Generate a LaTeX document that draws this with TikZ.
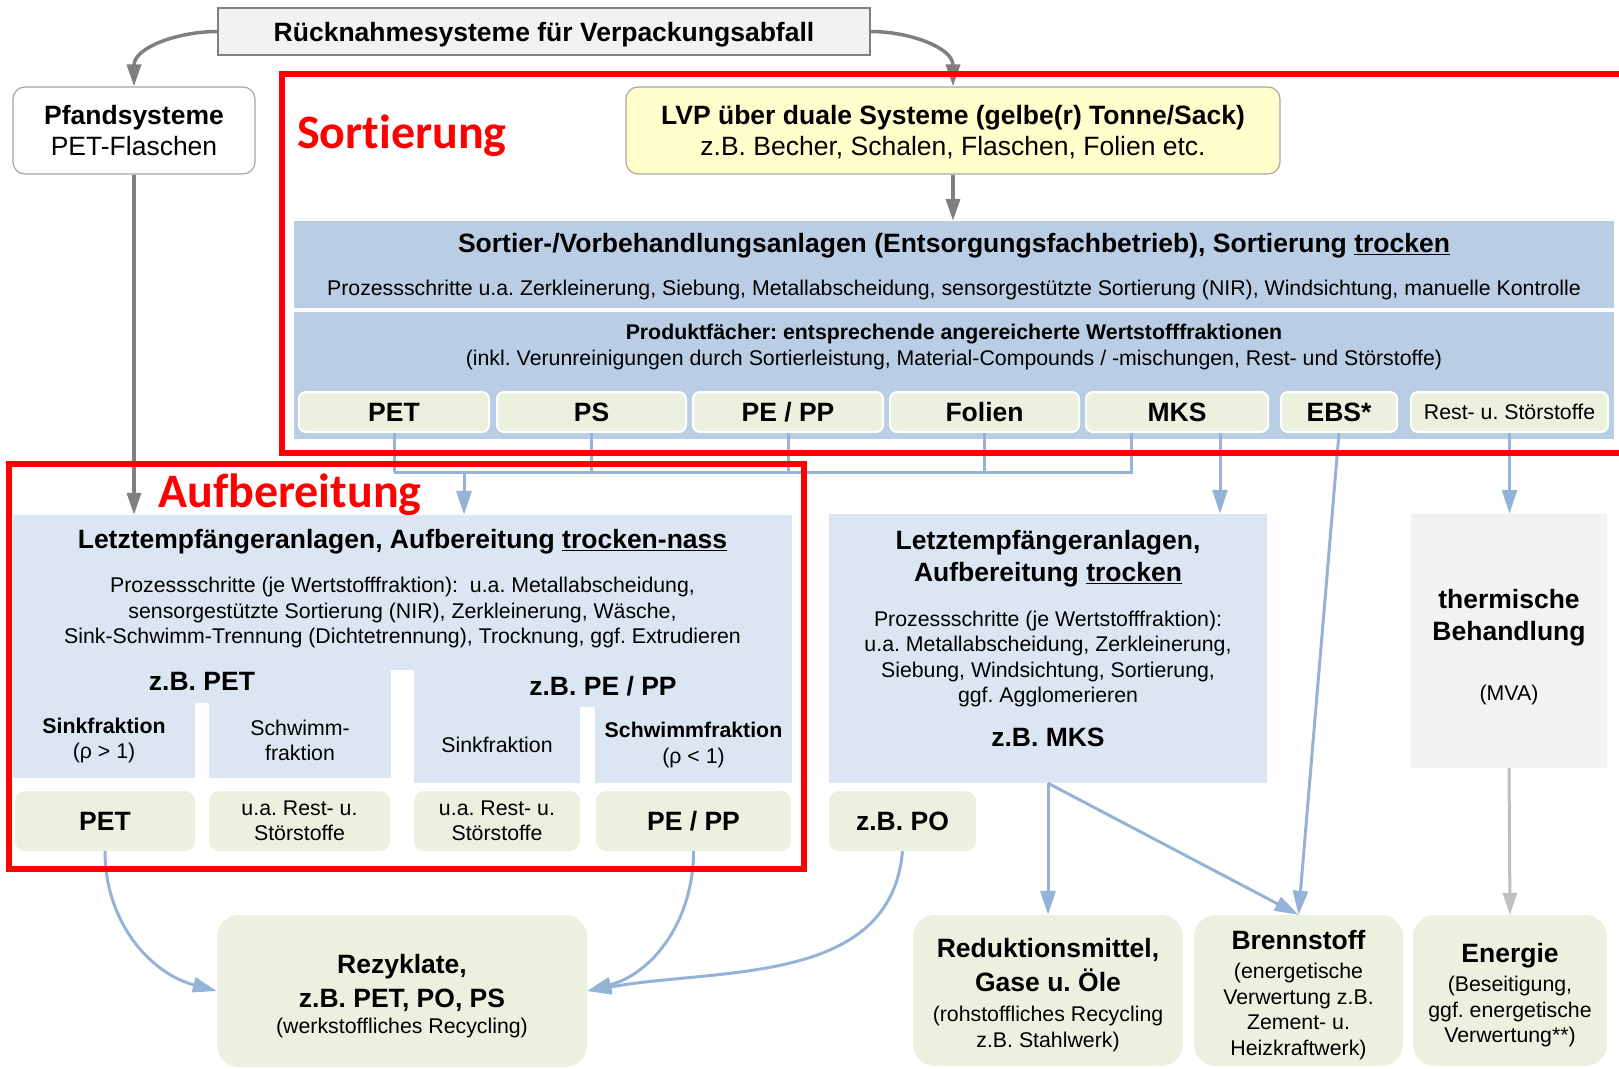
\documentclass[tikz,border=0pt]{standalone}
\usepackage{fontspec}
\setmainfont{Liberation Sans}
\newfontfamily\headfont[Ligatures=NoCommon]{Carlito}
\usepackage{tikz}
\usetikzlibrary{arrows.meta}
\frenchspacing
\definecolor{framered}{HTML}{FF0000}
\definecolor{linegray}{HTML}{7F7F7F}
\definecolor{edgegray}{HTML}{A6A6A6}
\definecolor{arrowgray}{HTML}{BFBFBF}
\definecolor{lineblue}{HTML}{95B3D7}
\definecolor{boxgray}{HTML}{F2F2F2}
\definecolor{lvpyellow}{HTML}{FFFFCC}
\definecolor{sortblue}{HTML}{B9CDE5}
\definecolor{aufblue}{HTML}{DCE6F2}
\definecolor{fachgreen}{HTML}{EBF1DE}
\newcommand{\fbig}{\fontsize{26.5}{31.5}\selectfont}
\newcommand{\fsmall}{\fontsize{21.3}{25.5}\selectfont}
\newcommand{\topgap}[1]{\rule{0pt}{#1}}

\begin{document}
\begin{tikzpicture}[x=1pt,y=-1pt,
  every node/.style={align=center,inner sep=0pt},
  titlebox/.style={draw=linegray,fill=boxgray,line width=1.2pt,font=\fbig\bfseries,text depth=-3pt},
  srcbox/.style={draw=edgegray,rounded corners=12pt,line width=1.2pt,font=\fbig,text depth=-3pt},
  sortbox/.style={fill=sortblue,font=\fsmall},
  aufbox/.style={fill=aufblue,font=\fsmall},
  fach/.style={fill=fachgreen,draw=white,line width=2pt,rounded corners=7pt,font=\fbig\bfseries,text depth=-3pt},
  outbox/.style={fill=fachgreen,rounded corners=10pt,font=\fsmall},
  endbox/.style={fill=fachgreen,rounded corners=22pt,font=\fsmall,text depth=-3pt},
  redframe/.style={draw=framered,line width=5.5pt},
  redlbl/.style={text=framered,font=\headfont\bfseries\fontsize{48}{50}\selectfont,anchor=west},
  grayarrow/.style={draw=linegray,line width=3.5pt,-{Triangle[length=22pt,width=14pt]}},
  blueline/.style={draw=lineblue,line width=3pt},
  bluearrow/.style={blueline,-{Triangle[length=24pt,width=15pt]}},
]
\useasboundingbox (0,0) rectangle (1619,1068);

% sources
\node[titlebox,minimum width=652pt,minimum height=47pt] (title) at (544,31.5) {Rücknahmesysteme für Verpackungsabfall};
\node[srcbox,fill=white,minimum width=242pt,minimum height=87pt] (pfand) at (134,130.5) {\textbf{Pfandsysteme}\\PET-Flaschen};
\node[srcbox,fill=lvpyellow,minimum width=654pt,minimum height=87pt] (lvp) at (953,130.5) {\textbf{LVP über duale Systeme (gelbe(r) Tonne/Sack)}\\z.B. Becher, Schalen, Flaschen, Folien etc.};
\node[redlbl] (sortlbl) at (297,136) {Sortierung};

% Sortierung
\node[sortbox,minimum width=1320pt,minimum height=87pt,text depth=-5pt] (sorter) at (954,264.5) {{\fbig\bfseries Sortier-/Vorbehandlungsanlagen (Entsorgungsfachbetrieb), Sortierung \underline{trocken}}\\[17.5pt]Prozessschritte u.a. Zerkleinerung, Siebung, Metallabscheidung, sensorgestützte Sortierung (NIR), Windsichtung, manuelle Kontrolle};
\node[sortbox,minimum width=1320pt,minimum height=127pt] (faecher) at (954,375.5) {};
\node[font=\fsmall] (faechertxt) at (954,347) {\textbf{Produktfächer: entsprechende angereicherte Wertstofffraktionen}\\(inkl. Verunreinigungen durch Sortierleistung, Material-Compounds / -mischungen, Rest- und Störstoffe)};
\node[fach,minimum width=190pt,minimum height=40pt] (fpet) at (394,412) {PET};
\node[fach,minimum width=189pt,minimum height=40pt] (fps) at (591.5,412) {PS};
\node[fach,minimum width=190pt,minimum height=40pt] (fpepp) at (788,412) {PE / PP};
\node[fach,minimum width=189pt,minimum height=40pt] (ffol) at (984.5,412) {Folien};
\node[fach,minimum width=182pt,minimum height=40pt] (fmks) at (1177,412) {MKS};
\node[fach,minimum width=116pt,minimum height=40pt] (febs) at (1339,412) {EBS*};
\node[fach,minimum width=197pt,minimum height=40pt,font=\fsmall] (frest) at (1509.5,412) {Rest- u. Störstoffe};

% Aufbereitung trocken-nass
\node[redlbl] (auflbl) at (158,495) {Aufbereitung};
\node[aufbox,minimum width=779pt,minimum height=155pt,text depth=11.5pt] (aufber) at (402.5,592.5) {{\fbig\bfseries Letztempfängeranlagen, Aufbereitung \underline{trocken-nass}}\\[18.5pt]Prozessschritte (je Wertstofffraktion):\ \ u.a. Metallabscheidung,\\sensorgestützte Sortierung (NIR), Zerkleinerung, Wäsche,\\Sink-Schwimm-Trennung (Dichtetrennung), Trocknung, ggf. Extrudieren};
\node[aufbox,minimum width=378pt,minimum height=43pt,font=\fbig\bfseries] (petgrp) at (202,681.5) {z.B. PET};
\node[aufbox,minimum width=378pt,minimum height=42pt,font=\fbig\bfseries] (pegrp) at (603,686) {z.B. PE / PP};
\node[aufbox,minimum width=182pt,minimum height=75pt] (petsink) at (104,740.5) {\textbf{Sinkfraktion}\\(ρ > 1)};
\node[aufbox,minimum width=182pt,minimum height=75pt] (petschwimm) at (300,740.5) {Schwimm-\\fraktion};
\node[aufbox,minimum width=166pt,minimum height=76pt] (pesink) at (497,745) {Sinkfraktion};
\node[aufbox,minimum width=197pt,minimum height=76pt] (peschwimm) at (693.5,745) {\textbf{Schwimmfraktion}\\(ρ < 1)};
\node[outbox,minimum width=180pt,minimum height=60pt,font=\fbig\bfseries] (opet) at (105,821) {PET};
\node[outbox,minimum width=181pt,minimum height=60pt] (orest1) at (299.5,821) {u.a. Rest- u.\\Störstoffe};
\node[outbox,minimum width=166pt,minimum height=60pt] (orest2) at (497,821) {u.a. Rest- u.\\Störstoffe};
\node[outbox,minimum width=195pt,minimum height=60pt,font=\fbig\bfseries] (opepp) at (693.5,821) {PE / PP};

% Aufbereitung trocken, thermisch
\node[aufbox,minimum width=438pt,minimum height=269pt] (trocken) at (1048,648.5) {};
\node[font=\fsmall] (trockentxt) at (1048,638.5) {{\fbig\bfseries Letztempfängeranlagen,}\\[6.5pt]{\fbig\bfseries Aufbereitung \underline{trocken}}\\[19.5pt]Prozessschritte (je Wertstofffraktion):\\u.a. Metallabscheidung, Zerkleinerung,\\Siebung, Windsichtung, Sortierung,\\ggf. Agglomerieren\\[18.5pt]{\fbig\bfseries z.B. MKS}};
\node[outbox,minimum width=147pt,minimum height=60pt,font=\fbig\bfseries] (opo) at (902.5,821) {z.B. PO};
\node[fill=boxgray,minimum width=196pt,minimum height=254pt,font=\fbig\bfseries,text depth=-3pt] (thermisch) at (1509,641) {\topgap{27pt}thermische\\Behandlung\\[28.5pt]{\fsmall\mdseries (MVA)}};

% outputs
\node[endbox,minimum width=370pt,minimum height=152pt] (rezyklat) at (402,991) {{\fbig\bfseries\topgap{24pt}Rezyklate,}\\[8.5pt]{\fbig\bfseries z.B. PET, PO, PS}\\[0.5pt](werkstoffliches Recycling)};
\node[endbox,minimum width=270pt,minimum height=151pt] (reduktion) at (1048,990.5) {{\fbig\bfseries\topgap{24pt}Reduktionsmittel,}\\[6.5pt]{\fbig\bfseries Gase u. Öle}\\[4.5pt](rohstoffliches Recycling\\z.B. Stahlwerk)};
\node[endbox,minimum width=209pt,minimum height=151pt] (brennstoff) at (1298.5,990.5) {{\fbig\bfseries\topgap{24pt}Brennstoff}\\[3.5pt](energetische\\Verwertung z.B.\\Zement- u.\\Heizkraftwerk)};
\node[endbox,minimum width=194pt,minimum height=151pt] (energie) at (1510,990.5) {{\fbig\bfseries\topgap{24pt}Energie}\\[3.5pt](Beseitigung,\\ggf. energetische\\Verwertung**)};

% connectors
\draw[grayarrow] (title.west) to[out=180,in=90] (pfand.north);
\draw[grayarrow] (title.east) to[out=0,in=90] (lvp.north);
\draw[grayarrow] (lvp.south) -- (lvp.south |- sorter.north);
\draw[grayarrow] (pfand.south) -- (pfand.south |- aufber.north);
\coordinate (bus) at (464,472);
\foreach \f in {fpet,fps,fpepp,ffol}
  \draw[blueline] (\f.south) -- (\f.south |- bus);
\draw[blueline] (fpet.south |- bus) -- ([xshift=-46pt]fmks.south |- bus) -- ([xshift=-46pt]fmks.south);
\draw[bluearrow] (bus) -- (bus |- aufber.north);
\draw[bluearrow] ([xshift=43pt]fmks.south) -- ([xshift=43pt]fmks.south |- trocken.north);
\draw[bluearrow] (febs.south) -- (brennstoff.north);
\draw[bluearrow] (frest.south) -- (frest.south |- thermisch.north);
\draw[bluearrow] (trocken.south) -- (reduktion.north);
\draw[bluearrow] (trocken.south) -- (brennstoff.north);
\draw[grayarrow,draw=arrowgray,line width=3pt] (thermisch.south) -- (energie.north);
\draw[bluearrow] (opet.south) to[out=-90,in=165] (rezyklat.west);
\draw[bluearrow] (opepp.south) to[out=-90,in=15] (rezyklat.east);
\draw[bluearrow] (opo.south) to[out=-95,in=10] (rezyklat.east);

% frames
\draw[redframe] (1630,74) -- (282,74) -- (282,453) -- (1630,453);
\draw[redframe] (9,464) rectangle (804,869);
\end{tikzpicture}
\end{document}
